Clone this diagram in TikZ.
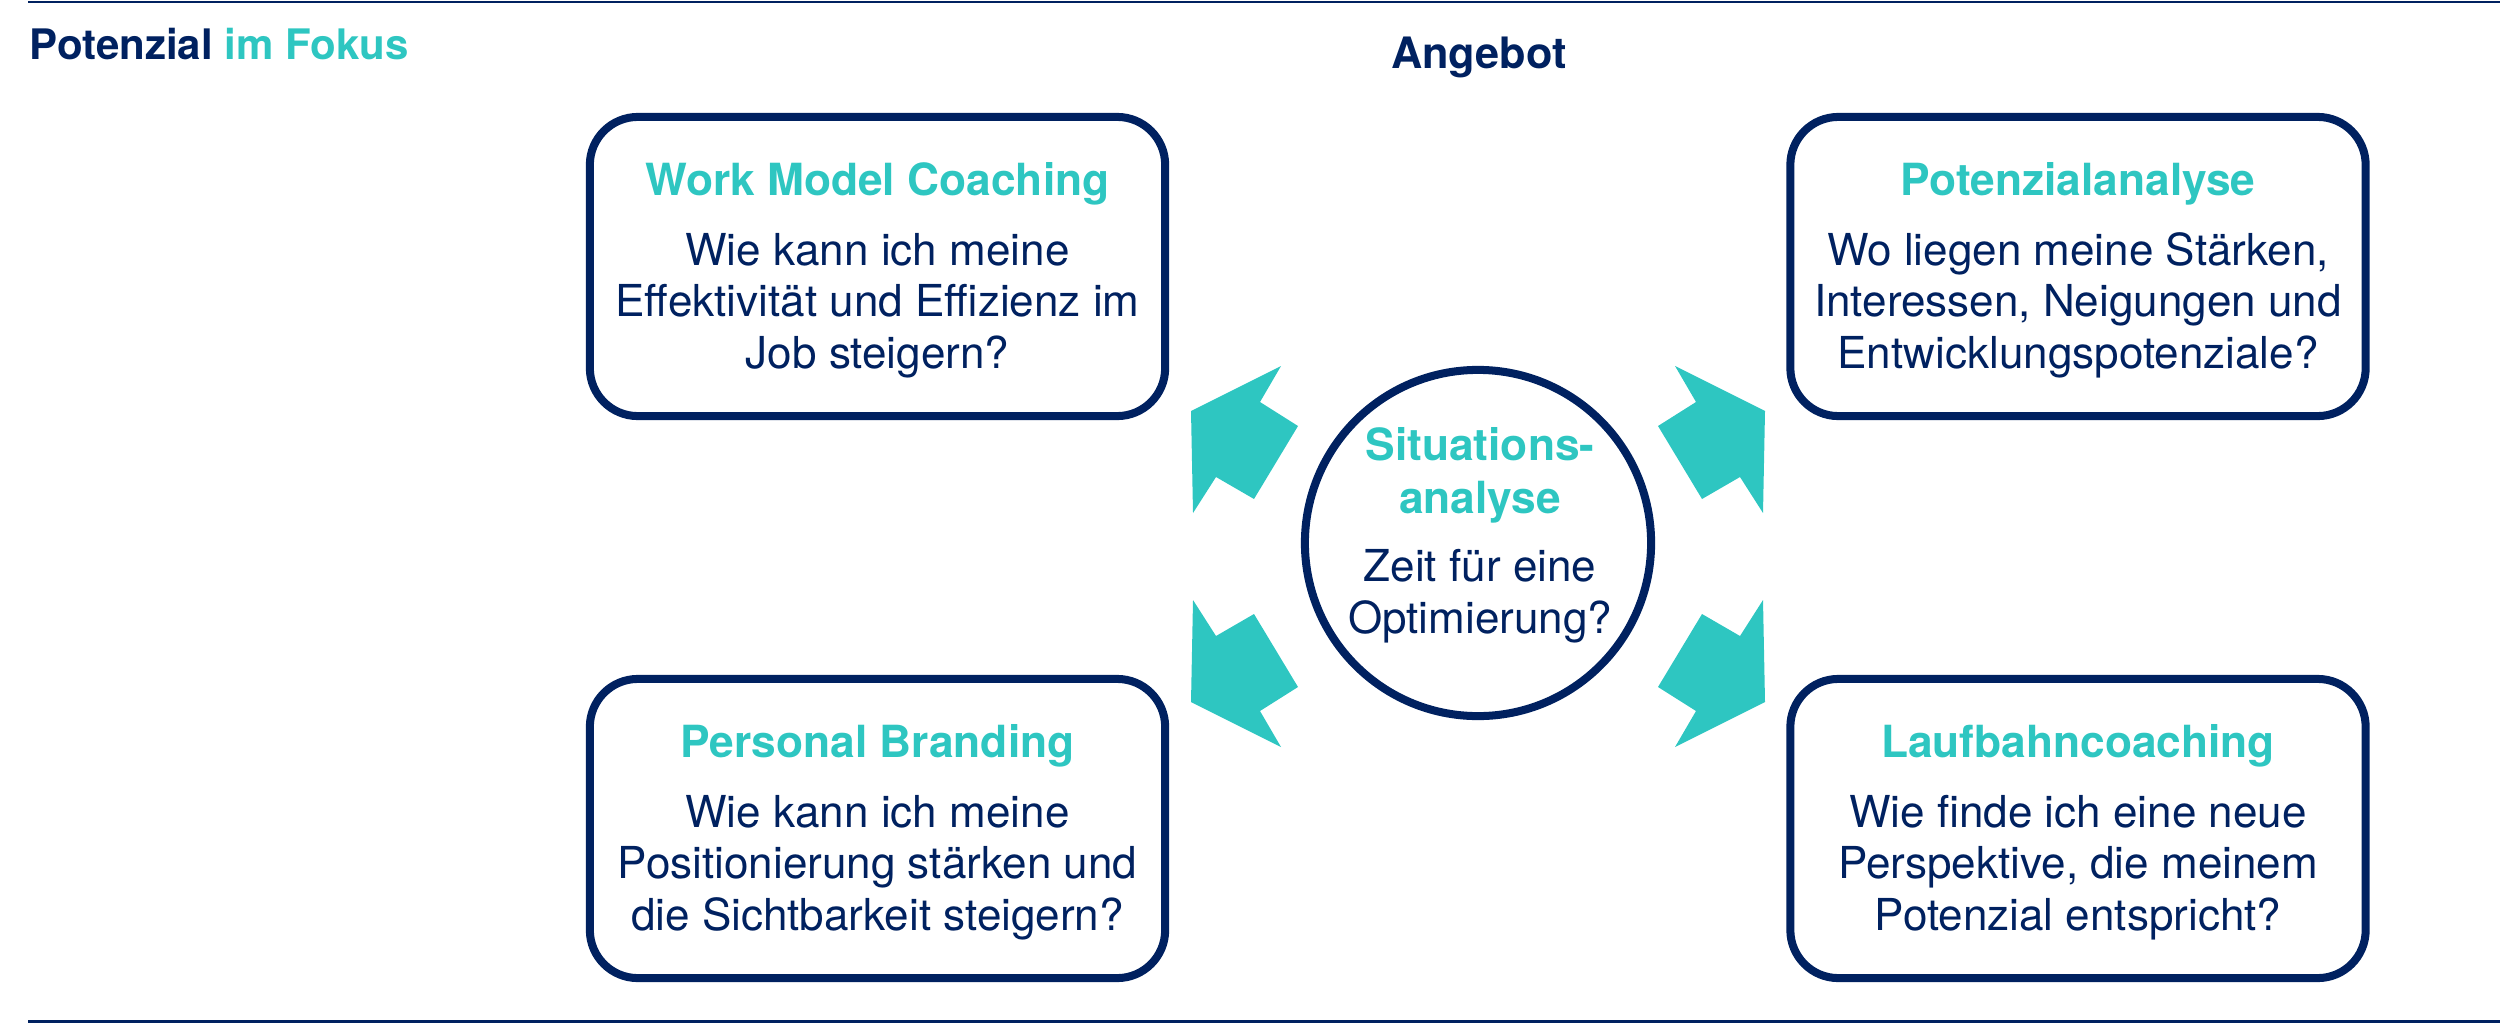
\documentclass[tikz,border=0pt]{standalone}
\usepackage{fontspec}
\setmainfont{TeX Gyre Heros}
\definecolor{brandnavy}{RGB}{0,33,96}
\definecolor{brandteal}{RGB}{46,198,193}
\newcommand{\fsTitle}{\fontsize{12.6pt}{14pt}\selectfont\bfseries}
\newcommand{\fsBody}{\fontsize{12.52pt}{15pt}\selectfont}
\newcommand{\fsHead}{\fontsize{11.95pt}{14pt}\selectfont\bfseries}
\begin{document}
\begin{tikzpicture}[x=0.01cm,y=-0.01cm,
  infobox/.style={draw=brandnavy, line width=2.28pt, rounded corners=0.48cm,
    minimum width=5.75cm, minimum height=2.99cm, inner sep=0pt},
  centerring/.style={circle, draw=brandnavy, line width=2.28pt, minimum size=3.46cm, inner sep=0pt},
  titletext/.style={anchor=base, inner sep=0pt, text=brandteal, font=\fsTitle},
  bodytext/.style={anchor=base, inner sep=0pt, text=brandnavy, font=\fsBody},
  arrowshape/.style={fill=brandteal, draw=none},
  rulestyle/.style={draw=brandnavy, line width=0.85pt}
]
\useasboundingbox (0,0) rectangle (2500,1024);

% rules
\coordinate (rtl) at (28,2);
\coordinate (rtr) at (2500,2);
\coordinate (rbl) at (28,1021);
\coordinate (rbr) at (2500,1021);
\draw[rulestyle] (rtl) -- (rtr);
\draw[rulestyle] (rbl) -- (rbr);

% headings
\node[anchor=base west, inner sep=0pt, font=\fsHead] (hdr) at (29,60)
  {\textcolor{brandnavy}{Potenzial} \textcolor{brandteal}{im Fokus}};
\node[anchor=base, inner sep=0pt, font=\fontsize{12.3pt}{14pt}\selectfont\bfseries, text=brandnavy] (ang) at (1479,68) {Angebot};

% boxes
\node[infobox] (wmc) at (877.5,266.5) {};
\node[infobox] (pot) at (2078,266.5) {};
\node[infobox] (pb) at (877.5,828.5) {};
\node[infobox] (lbc) at (2078,828.5) {};
\node[centerring] (sit) at (1478,543) {};

% arrows
\foreach \sx/\sy in {1/1,-1/1,1/-1,-1/-1}
  \fill[arrowshape, shift={(1478,556.5)}, xscale=\sx, yscale=\sy]
    (-287,-145.5) -- (-285,-43.5) -- (-262,-79.5) -- (-224,-57.5)
    -- (-180,-130.5) -- (-218,-154.5) -- (-197,-190.5) -- cycle;

% texts: Work Model Coaching
\node[titletext] (wmct) at (877.5,195) {Work Model Coaching};
\node[bodytext] (wmc1) at (877.5,265) {Wie kann ich meine};
\node[bodytext] (wmc2) at (877.5,316) {Effektivität und Effizienz im};
\node[bodytext] (wmc3) at (877.5,368) {Job steigern?};

% Potenzialanalyse
\node[titletext] (pott) at (2078,195) {Potenzialanalyse};
\node[bodytext] (pot1) at (2078,265) {Wo liegen meine Stärken,};
\node[bodytext] (pot2) at (2078,316) {Interessen, Neigungen und};
\node[bodytext] (pot3) at (2078,368) {Entwicklungspotenziale?};

% Personal Branding
\node[titletext] (pbt) at (877.5,757) {Personal Branding};
\node[bodytext] (pb1) at (877.5,827) {Wie kann ich meine};
\node[bodytext] (pb2) at (877.5,878) {Positionierung stärken und};
\node[bodytext] (pb3) at (877.5,930) {die Sichtbarkeit steigern?};

% Laufbahncoaching
\node[titletext] (lbct) at (2078,757) {Laufbahncoaching};
\node[bodytext] (lbc1) at (2078,827) {Wie finde ich eine neue};
\node[bodytext] (lbc2) at (2078,878) {Perspektive, die meinem};
\node[bodytext] (lbc3) at (2078,930) {Potenzial entspricht?};

% Situationsanalyse
\node[titletext] (sitt1) at (1480,460) {Situations-};
\node[titletext] (sitt2) at (1480,513) {analyse};
\node[bodytext] (sit1) at (1480,581) {Zeit für eine};
\node[bodytext] (sit2) at (1480,633) {Optimierung?};
\end{tikzpicture}
\end{document}
